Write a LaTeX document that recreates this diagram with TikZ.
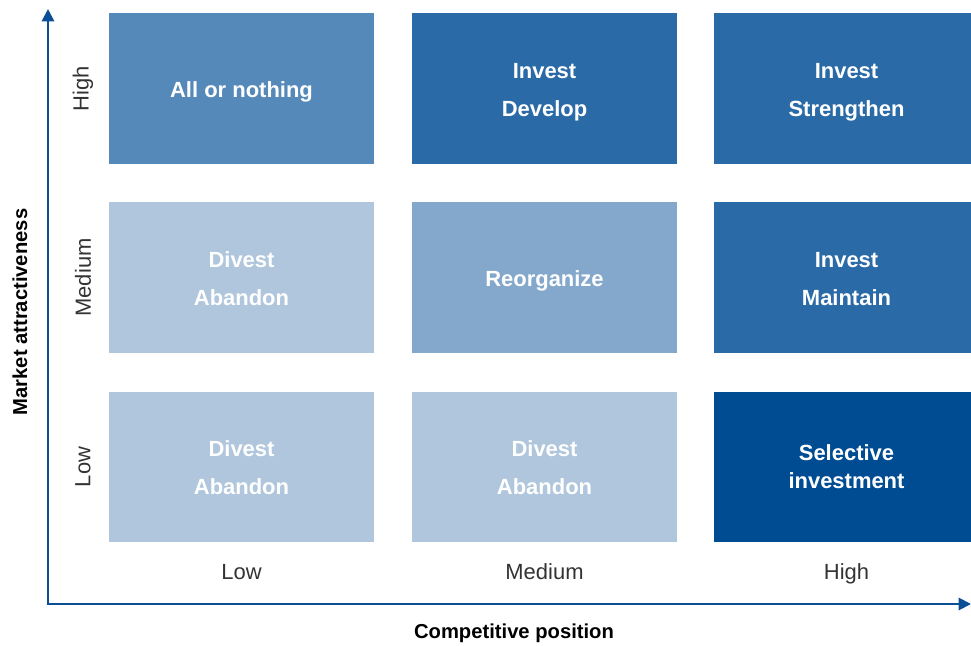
\documentclass[tikz,border=0pt]{standalone}
\usepackage{fontspec}
\setmainfont{Liberation Sans}
\usepackage{tikz}
\usetikzlibrary{positioning,arrows.meta}
\definecolor{axisc}{HTML}{0B4F96}
\definecolor{tickc}{HTML}{333333}
\definecolor{paleb}{HTML}{AFC6DD}
\definecolor{softb}{HTML}{84A8CB}
\definecolor{midb}{HTML}{5589BA}
\definecolor{strongb}{HTML}{2A6AA6}
\definecolor{deepb}{HTML}{004C93}
\tikzset{
  cellbox/.style={fill=#1, minimum width=5.3cm, minimum height=3.02cm,
    inner sep=0pt, align=center, text=white,
    execute at begin node={\rule{0pt}{12.6pt}},
    font=\fontsize{12.5}{21.5}\selectfont\bfseries},
  twoline/.style={text height=31.5pt, text depth=0pt},
  ticklbl/.style={text=tickc, font=\fontsize{12.5}{15}\selectfont},
  axislbl/.style={text=black, font=\fontsize{11.5}{14}\selectfont\bfseries},
  axisline/.style={axisc, line width=1.1pt}
}

\begin{document}
\begin{tikzpicture}[x=0.02cm, y=-0.02cm]
  \useasboundingbox (0,0) rectangle (971,646);

  % grid of strategy cells (columns: position, rows: attractiveness)
  \node[cellbox=midb]            (hl) at (241.5,88.5) {All or nothing};
  \node[cellbox=strongb,twoline] (hm) at (544.5,88.5) {Invest\\Develop};
  \node[cellbox=strongb,twoline] (hh) at (846.5,88.5) {Invest\\Strengthen};

  \node[cellbox=paleb,twoline]   (ml) at (241.5,277.5) {Divest\\Abandon};
  \node[cellbox=softb]           (mm) at (544.5,277.5) {Reorganize};
  \node[cellbox=strongb,twoline] (mh) at (846.5,277.5) {Invest\\Maintain};

  \node[cellbox=paleb,twoline]   (ll) at (241.5,467) {Divest\\Abandon};
  \node[cellbox=paleb,twoline]   (lm) at (544.5,467) {Divest\\Abandon};
  \node[cellbox=deepb, font=\fontsize{12.5}{16}\selectfont\bfseries]
                                 (lh) at (846.5,467) {Selective\\investment};

  % axes
  \coordinate (origin) at (48,604);
  \coordinate (ytip) at (48,9);
  \coordinate (xtip) at (971,604);
  \draw[axisline, {Triangle[length=7pt,width=7pt]}-{Triangle[length=7pt,width=7pt]}]
    (ytip) -- (origin) -- (xtip);

  % tick labels
  \foreach \lbl/\y/\nm in {High/88.5/th, Medium/277.5/tm, Low/467/tl}
    \node[ticklbl, rotate=90] (\nm) at (83,\y) {\lbl};
  \foreach \lbl/\x/\nm in {Low/241.5/bl, Medium/544.5/bm, High/846.5/bh}
    \node[ticklbl, anchor=base] (\nm) at (\x,579) {\lbl};

  % axis titles
  \node[axislbl, rotate=90] (ytitle) at (20,312) {Market attractiveness};
  \node[axislbl] (xtitle) at (514,633) {Competitive position};
\end{tikzpicture}
\end{document}
